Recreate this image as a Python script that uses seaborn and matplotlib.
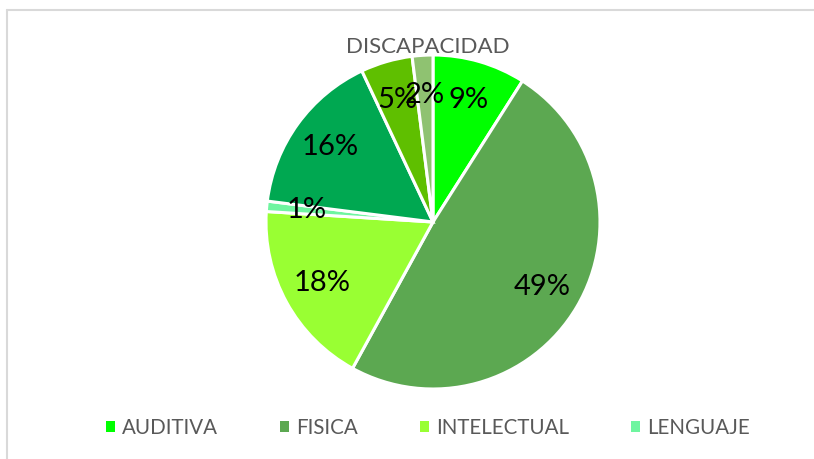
import matplotlib
matplotlib.use("Agg")
import matplotlib.pyplot as plt
import seaborn as sns
from matplotlib.lines import Line2D
from matplotlib.patches import Rectangle

sns.set_theme(style="white")
plt.rcParams['font.family'] = ['Lato', 'DejaVu Sans']

# Data (clockwise from top)
categories = ["AUDITIVA", "FISICA", "INTELECTUAL", "LENGUAJE", "MULTIPLE", "PSICOSOCIAL", "VISUAL"]
values = [9, 49, 18, 1, 16, 5, 2]
colors = ["#00ff00", "#5ca851", "#99ff33", "#6ff5a0", "#00a851", "#5fbf00", "#8fc271"]
legend_shown = ["AUDITIVA", "FISICA", "INTELECTUAL", "LENGUAJE"]
title = "DISCAPACIDAD"

W, H = 814, 459
fig = plt.figure(figsize=(W / 100, H / 100), dpi=100)

cx, cy, r = 433, 222, 167
ax = fig.add_axes([(cx - r) / W, (H - cy - r) / H, 2 * r / W, 2 * r / H])
wedges, texts, autotexts = ax.pie(
    values, colors=colors, startangle=90, counterclock=False,
    autopct='%.0f%%', pctdistance=0.76,
    wedgeprops=dict(edgecolor="white", linewidth=2.2),
    textprops=dict(fontsize=21, color="black"))
ax.set_xlim(-1, 1)
ax.set_ylim(-1, 1)
ax.set_aspect('auto')
ax.axis('off')

fig.text(428 / W, 1 - 47 / H, title, ha='center', va='center', fontsize=16, color="#595959")

handles = [Rectangle((0, 0), 1, 1, facecolor=colors[categories.index(c)], edgecolor='none') for c in legend_shown]
fig.legend(handles, legend_shown, loc='center', bbox_to_anchor=(428 / W, 1 - 428 / H),
           ncol=4, frameon=False, fontsize=14.8, labelcolor="#595959",
           handlelength=0.45, handleheight=0.45, handletextpad=0.35, columnspacing=3.0)

# chart border (left and top visible)
fig.add_artist(Line2D([7 / W, 7 / W], [0, 1 - 10 / H], transform=fig.transFigure, color="#d9d9d9", lw=1.5))
fig.add_artist(Line2D([7 / W, 1], [1 - 10 / H, 1 - 10 / H], transform=fig.transFigure, color="#d9d9d9", lw=1.5))

fig.savefig("out.png", dpi=100, facecolor="white")
